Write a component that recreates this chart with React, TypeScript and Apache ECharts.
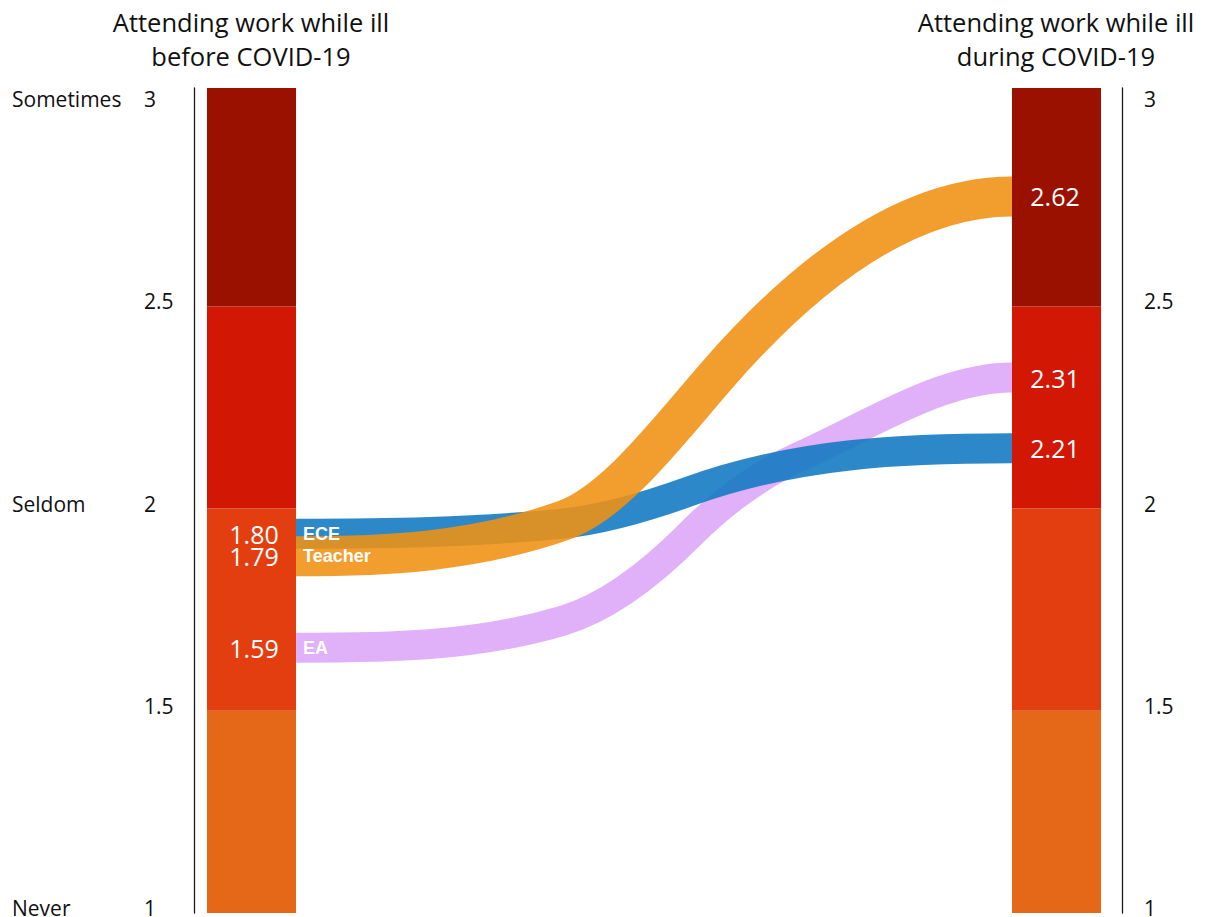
import React, { useEffect, useRef } from 'react';
import * as echarts from 'echarts';

// ---------- data ----------
const groups = ['ECE', 'Teacher', 'EA'];
const beforeValues = [1.8, 1.79, 1.59];
const duringValues = [2.21, 2.62, 2.31];
const yTicks = [1, 1.5, 2, 2.5, 3];
const scaleValues = [1, 2, 3];
const scaleNames = ['Never', 'Seldom', 'Sometimes'];
const bandFrom = [1, 1.5, 2, 2.5];
const bandTo = [1.5, 2, 2.5, 3.04];
const titleLeft = 'Attending work while ill\nbefore COVID-19';
const titleRight = 'Attending work while ill\nduring COVID-19';
// flow centre lines: knots (x along the hidden axis, y on the 1–3 scale)
// and the rise of the curve at each knot (scale units per 100 x units)
const eceKnotX = [296, 563, 690, 1012];
const eceKnotY = [1.938, 1.963, 2.043, 2.149];
const eceKnotRise = [0, 0.025, 0.089, 0];
const teacherKnotX = [296, 563, 716, 1012];
const teacherKnotY = [1.882, 1.97, 2.327, 2.772];
const teacherKnotRise = [0, 0.087, 0.285, 0];
const eaKnotX = [296, 563, 690, 800, 1012];
const eaKnotY = [1.656, 1.723, 1.936, 2.129, 2.324];
const eaKnotRise = [0, 0.074, 0.248, 0.111, 0];
const knotX = [eceKnotX, teacherKnotX, eaKnotX];
const knotY = [eceKnotY, teacherKnotY, eaKnotY];
const knotRise = [eceKnotRise, teacherKnotRise, eaKnotRise];

// ---------- style / layout ----------
const Y_MIN = 1;
const Y_MAX = 3.04;
const X_MIN = 194;
const X_MAX = 1122;
const LEFT_BAR = [207, 296];
const RIGHT_BAR = [1012, 1101];
const BAND_COLORS = ['#e56819', '#e33e10', '#d21705', '#9b1100'];
const FLOW_COLORS = ['#0f78c0', '#f09111', '#dca5f7'];
const FLOW_WIDTHS = [30, 40, 30];
const DRAW_ORDER = [2, 0, 1];
const FONT = "'Open Sans', 'Noto Sans', sans-serif";
const BOLD_FONT = "'Liberation Sans', Arial, sans-serif";

export default function App() {
  const ref = useRef<HTMLDivElement>(null);
  useEffect(() => {
    const chart = echarts.init(ref.current as HTMLDivElement, null, { renderer: 'svg' });

    const baseY = {
      type: 'value',
      min: Y_MIN,
      max: Y_MAX,
      interval: 0.5,
      splitLine: { show: false },
      axisTick: { show: false },
    };
    const labelBase = {
      align: 'left',
      verticalAlign: 'bottom',
      lineHeight: 10,
      fontFamily: FONT,
      fontSize: 21,
      color: '#111',
    };

    const barData: number[][] = [];
    [0, 1].forEach((side) => {
      bandFrom.forEach((lo, k) => barData.push([side, lo, bandTo[k], k]));
    });

    const flowSeries = DRAW_ORDER.map((i, j) => ({
      type: 'custom',
      name: groups[i],
      z: 3 + j,
      silent: true,
      data: [[knotX[i][0], knotY[i][0], i]],
      encode: { x: 0, y: 1 },
      renderItem: (params: any, api: any) => {
        const idx = api.value(2);
        const xs = knotX[idx];
        const ys = knotY[idx];
        const ms = knotRise[idx];
        const start = api.coord([xs[0], ys[0]]);
        let d = `M${start[0]},${start[1]}`;
        for (let k = 0; k < xs.length - 1; k++) {
          const h = (xs[k + 1] - xs[k]) / 3;
          const c1 = api.coord([xs[k] + h, ys[k] + (h * ms[k]) / 100]);
          const c2 = api.coord([xs[k + 1] - h, ys[k + 1] - (h * ms[k + 1]) / 100]);
          const p = api.coord([xs[k + 1], ys[k + 1]]);
          d += ` C${c1[0]},${c1[1]} ${c2[0]},${c2[1]} ${p[0]},${p[1]}`;
        }
        return {
          type: 'path',
          shape: { pathData: d },
          style: {
            fill: 'none',
            stroke: FLOW_COLORS[idx],
            lineWidth: FLOW_WIDTHS[idx],
            opacity: 0.88,
            lineCap: 'butt',
          },
        };
      },
    }));

    const option: any = {
      animation: false,
      backgroundColor: '#ffffff',
      grid: { left: 194, right: 84, top: 88, bottom: 4, outerBoundsMode: 'none', containLabel: false },
      xAxis: { type: 'value', min: X_MIN, max: X_MAX, show: false },
      yAxis: [
        {
          ...baseY,
          position: 'left',
          axisLine: { show: true, lineStyle: { color: '#1a1a1a', width: 1.3 } },
          axisLabel: {
            ...labelBase,
            margin: 50,
            formatter: (v: number) => (yTicks.indexOf(v) >= 0 ? String(v) : ''),
          },
        },
        {
          ...baseY,
          position: 'right',
          axisLine: { show: true, lineStyle: { color: '#1a1a1a', width: 1.3 } },
          axisLabel: {
            ...labelBase,
            margin: 22,
            formatter: (v: number) => (yTicks.indexOf(v) >= 0 ? String(v) : ''),
          },
        },
        {
          ...baseY,
          position: 'left',
          axisLine: { show: false },
          axisLabel: {
            ...labelBase,
            margin: 182,
            formatter: (v: number) => {
              const k = scaleValues.indexOf(v);
              return k >= 0 ? scaleNames[k] : '';
            },
          },
        },
      ],
      graphic: [
        {
          type: 'text',
          x: 251,
          y: 5,
          style: {
            text: titleLeft,
            align: 'center',
            fontFamily: FONT,
            fontSize: 25.5,
            lineHeight: 34,
            fill: '#111',
          },
        },
        {
          type: 'text',
          x: 1056,
          y: 5,
          style: {
            text: titleRight,
            align: 'center',
            fontFamily: FONT,
            fontSize: 25.5,
            lineHeight: 34,
            fill: '#111',
          },
        },
      ],
      series: [
        {
          type: 'custom',
          z: 2,
          silent: true,
          data: barData,
          encode: { x: 0, y: [1, 2] },
          renderItem: (params: any, api: any) => {
            const side = api.value(0);
            const lo = api.value(1);
            const hi = api.value(2);
            const k = api.value(3);
            const xs = side === 0 ? LEFT_BAR : RIGHT_BAR;
            const a = api.coord([xs[0], hi]);
            const b = api.coord([xs[1], lo]);
            return {
              type: 'rect',
              shape: { x: a[0], y: a[1], width: b[0] - a[0], height: b[1] - a[1] },
              style: { fill: BAND_COLORS[k] },
            };
          },
        },
        ...flowSeries,
        {
          type: 'custom',
          z: 10,
          silent: true,
          data: groups.map((g, i) => [
            knotY[i][0],
            knotY[i][knotY[i].length - 1],
            beforeValues[i],
            duringValues[i],
          ]),
          encode: { x: -1, y: [0, 1] },
          renderItem: (params: any, api: any) => {
            const i = params.dataIndex;
            const y0 = api.value(0);
            const y1 = api.value(1);
            const pb = api.coord([254, y0]);
            const pg = api.coord([303, y0]);
            const pd = api.coord([1055, y1]);
            return {
              type: 'group',
              children: [
                {
                  type: 'text',
                  x: pb[0],
                  y: pb[1],
                  style: {
                    text: api.value(2).toFixed(2),
                    fill: '#fff',
                    fontFamily: FONT,
                    fontSize: 25,
                    lineHeight: 20,
                    align: 'center',
                    verticalAlign: 'middle',
                  },
                },
                {
                  type: 'text',
                  x: pg[0],
                  y: pg[1],
                  style: {
                    text: groups[i],
                    fill: '#fff',
                    fontFamily: BOLD_FONT,
                    fontWeight: 'bold',
                    fontSize: 18,
                    lineHeight: 16,
                    align: 'left',
                    verticalAlign: 'middle',
                  },
                },
                {
                  type: 'text',
                  x: pd[0],
                  y: pd[1],
                  style: {
                    text: api.value(3).toFixed(2),
                    fill: '#fff',
                    fontFamily: FONT,
                    fontSize: 25,
                    lineHeight: 20,
                    align: 'center',
                    verticalAlign: 'middle',
                  },
                },
              ],
            };
          },
        },
      ],
    };

    chart.setOption(option);
    return () => chart.dispose();
  }, []);

  return (
    <div
      ref={ref}
      style={{ position: 'absolute', left: 0, top: 0, width: 1206, height: 917, background: '#fff' }}
    />
  );
}
